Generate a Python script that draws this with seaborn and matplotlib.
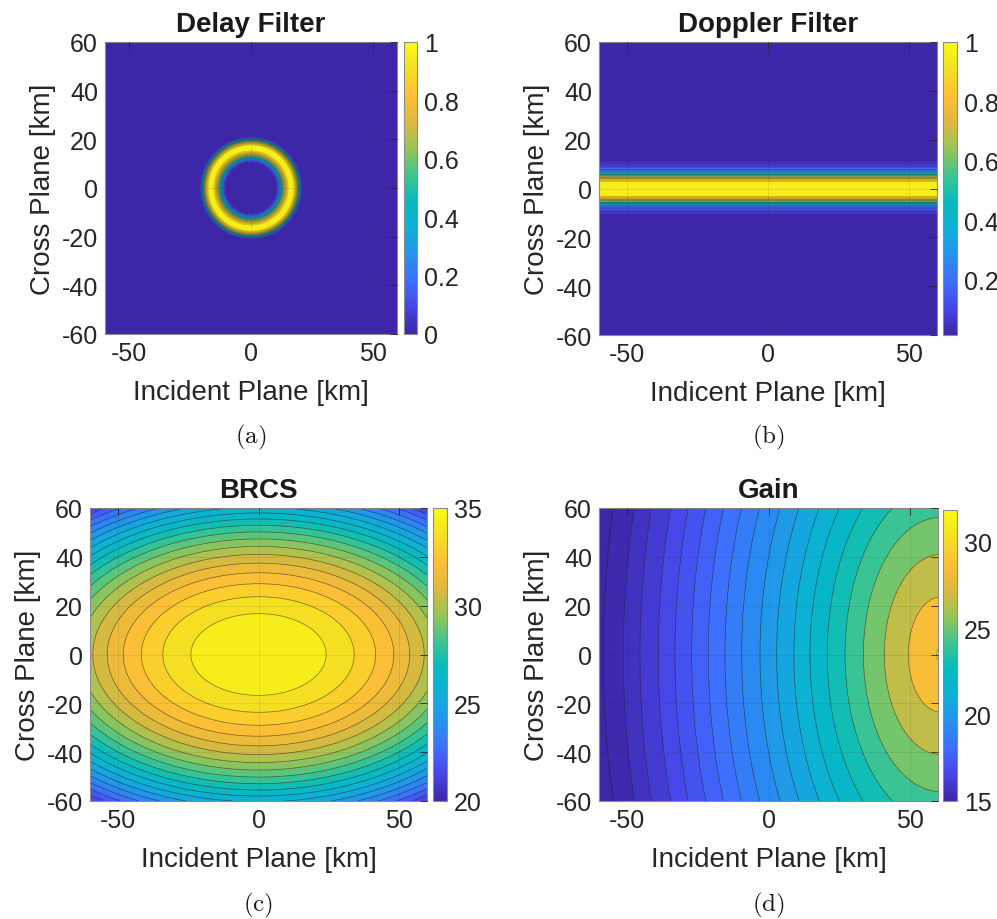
import numpy as np
import matplotlib
matplotlib.use("Agg")
import matplotlib.pyplot as plt
import seaborn as sns
from matplotlib.ticker import FuncFormatter, FixedLocator
from matplotlib.cm import ScalarMappable
from matplotlib.colors import Normalize

# ---------------- data ----------------
span_km = [-60.0, 60.0]
x_ticks = [-50, 0, 50]
y_ticks = [-60, -40, -20, 0, 20, 40, 60]

titles = ["Delay Filter", "Doppler Filter", "BRCS", "Gain"]
x_labels = ["Incident Plane [km]", "Indicent Plane [km]",
            "Incident Plane [km]", "Incident Plane [km]"]
y_label = "Cross Plane [km]"
panel_tags = ["(a)", "(b)", "(c)", "(d)"]

# Delay filter annulus: squared radii [km^2] of inner zero, peak, outer zero; flatness
delay_ring_r2 = [94.0, 272.0, 454.0]
delay_flatness = 1.3
# Doppler filter band: half-power half width [km], roll-off order, floor value
doppler_band = [5.6, 4.6, 0.014]
# BRCS [dB]: peak, x scale [km], y scale [km]
brcs_params = [35.0, 28.5, 19.8]
# Gain [dB]: peak, beam centre x [km], log scale [km], y stretch, dB per e-fold
gain_params = [31.85, 61.0, 30.0, 2.05, 10.4]
# Gain contour lines: crossing points along the y = 0 row [km]
gain_line_x = [-58.5, -51.4, -45.5, -39.0, -33.1, -27.2, -21.3, -15.4, -9.5,
               -3.0, 2.9, 9.0, 14.7, 20.8, 27.1, 33.6, 41.0, 49.5, 59.5]

cbar_limits = [(0.0, 1.0), (0.014, 1.0), (20.0, 35.0), (15.0, 31.85)]
cbar_ticks = [[0, 0.2, 0.4, 0.6, 0.8, 1], [0.2, 0.4, 0.6, 0.8, 1],
              [20, 25, 30, 35], [15, 20, 25, 30]]
n_levels = [21, 21, 22, None]
line_alpha = [0.3, 0.35, 0.6, 0.6]
line_width = [0.4, 0.4, 0.5, 0.5]

# parula-like colour anchors
parula_anchors = ["#3e26a8", "#4744e6", "#3e6ffd", "#2592ee", "#0fb0d8",
                  "#05bbbe", "#40c58f", "#98c555", "#e0b83f", "#fdbf36",
                  "#f4e022", "#f9fb14"]

# ---------------- fields ----------------
g = np.linspace(span_km[0], span_km[1], 481)
X, Y = np.meshgrid(g, g)
R2 = X**2 + Y**2

r_in, r_pk, r_out = delay_ring_r2
u = np.where(R2 < r_pk, (R2 - r_pk) / (r_pk - r_in), (R2 - r_pk) / (r_out - r_pk))
delay = np.where(np.abs(u) < 1,
                 np.cos(np.pi / 2 * np.abs(u) ** delay_flatness) ** 2, 0.0)

half_w, order, floor = doppler_band
doppler = floor + (1 - floor) / (1 + (np.abs(Y) / half_w) ** order)

pk, sx, sy = brcs_params
brcs = pk - (X / sx) ** 2 - (Y / sy) ** 2

g0, xc, d0, stretch, db_e = gain_params
def gain_fn(x, y):
    d = np.sqrt((x - xc) ** 2 + (y / stretch) ** 2)
    return g0 - db_e * np.log1p(d / d0)
gain = gain_fn(X, Y)

fields = [delay, doppler, brcs, gain]

def line_levels(i):
    if i == 3:
        return np.sort(gain_fn(np.array(gain_line_x), 0.0))
    lo, hi = cbar_limits[i]
    return np.linspace(lo, hi, n_levels[i])[1:-1]

# ---------------- style ----------------
sns.set_theme(style="white")
plt.rcParams["font.family"] = ["Liberation Sans", "DejaVu Sans"]
plt.rcParams["axes.unicode_minus"] = False
plt.rcParams["mathtext.fontset"] = "cm"

cmap = sns.blend_palette(parula_anchors, n_colors=256, as_cmap=True)

W, H = 997, 920
fig = plt.figure(figsize=(W / 100, H / 100), dpi=100)
fig.patch.set_facecolor("white")

def rect(x0, y0, x1, y1):
    return [x0 / W, 1 - y1 / H, (x1 - x0) / W, (y1 - y0) / H]

ax_px = [(105, 43, 397, 335), (599, 43, 937, 336),
         (90, 509, 427, 802), (599, 509, 938, 802)]
cb_px = [(404, 43, 417, 335), (943, 43, 957, 336),
         (433, 509, 447, 802), (943, 511, 957, 802)]

fmt = FuncFormatter(lambda val, pos: "%g" % val)
txt = "#262626"

for i in range(4):
    ax = fig.add_axes(rect(*ax_px[i]))
    vmin, vmax = cbar_limits[i]
    Z = fields[i]
    zmin, zmax = float(Z.min()), float(Z.max())
    lv = line_levels(i)
    lv = lv[(lv > zmin + 1e-6) & (lv < zmax - 1e-6)]
    edges = np.concatenate([[zmin - 1e-6], lv, [zmax + 1e-6]])
    norm = Normalize(vmin, vmax)
    lower = np.concatenate([[max(zmin, vmin)], lv])
    cols = [cmap(norm(val)) for val in lower]
    ax.contourf(X, Y, Z, levels=edges, colors=cols, zorder=1)
    ax.contour(X, Y, Z, levels=lv, colors="k", linewidths=line_width[i],
               alpha=line_alpha[i], zorder=1.5)
    ax.set_xlim(span_km)
    ax.set_ylim(span_km)
    ax.xaxis.set_major_locator(FixedLocator(x_ticks))
    ax.yaxis.set_major_locator(FixedLocator(y_ticks))
    ax.xaxis.set_major_formatter(fmt)
    ax.yaxis.set_major_formatter(fmt)
    ax.tick_params(direction="in", length=5, width=0.6, color=txt,
                   labelsize=18, labelcolor=txt, top=True, right=True, pad=5)
    ax.set_axisbelow(False)
    ax.grid(True, color="k", alpha=0.1, linewidth=0.6)
    for s in ax.spines.values():
        s.set_color("#8c8c8c")
        s.set_linewidth(0.8)
    ax.set_xlabel(x_labels[i], fontsize=20, color=txt, labelpad=10)
    ax.set_ylabel(y_label, fontsize=20, color=txt, labelpad=4)
    cx = (ax_px[i][0] + ax_px[i][2]) / 2
    ty = ax_px[i][1] - 11
    fig.text(cx / W, 1 - ty / H, titles[i], ha="center", va="baseline",
             fontsize=20, fontweight="bold", color="k")
    tag_y = 437 if i < 2 else 905
    fig.text(cx / W, 1 - tag_y / H, r"$\mathrm{%s}$" % panel_tags[i],
             ha="center", va="center", fontsize=18, color="k")

    cax = fig.add_axes(rect(*cb_px[i]))
    sm = ScalarMappable(norm=norm, cmap=cmap)
    cb = fig.colorbar(sm, cax=cax)
    cb.set_ticks(cbar_ticks[i])
    cb.ax.yaxis.set_major_formatter(fmt)
    cb.ax.tick_params(direction="in", length=4, width=0.6, color=txt,
                      labelsize=18, labelcolor=txt, pad=5)
    cb.outline.set_edgecolor("#8c8c8c")
    cb.outline.set_linewidth(0.8)

fig.savefig("out.png", dpi=100, facecolor="white")
